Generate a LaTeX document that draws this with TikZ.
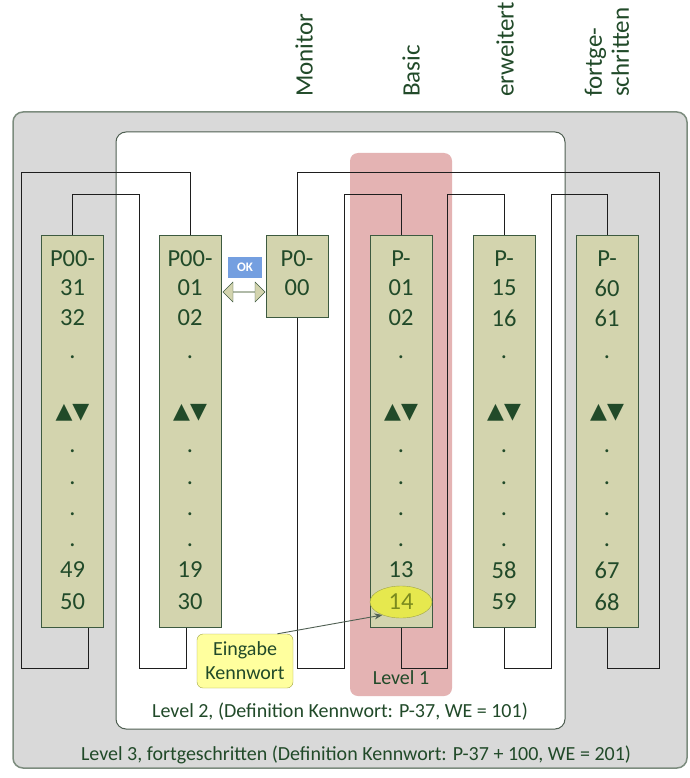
\documentclass[tikz,border=0pt]{standalone}
\usepackage{fontspec}
\setmainfont{Carlito}
\newfontfamily\symfont{DejaVu Sans}
\usetikzlibrary{arrows.meta, shapes.geometric, shapes.arrows}

\definecolor{lvlgray}{HTML}{D9D9D9}
\definecolor{lvlborder}{HTML}{7C8C7E}
\definecolor{innerborder}{HTML}{4F5F52}
\definecolor{basicred}{HTML}{E4B3B3}
\definecolor{boxfill}{HTML}{D3D4AE}
\definecolor{boxline}{HTML}{3D5A40}
\definecolor{txtgreen}{HTML}{214A29}
\definecolor{linecol}{HTML}{1E1E1E}
\definecolor{okblue}{HTML}{749FE0}
\definecolor{calloutfill}{HTML}{FFFF9E}
\definecolor{calloutline}{HTML}{A0A448}
\definecolor{markfill}{HTML}{E6E84E}
\definecolor{marktext}{HTML}{7A8A1E}

\begin{document}
\begin{tikzpicture}[x=1pt, y=-1pt,
        paramcol/.style={draw=boxline, fill=boxfill, line width=0.9pt, minimum width=62, minimum height=392, anchor=north, inner sep=0pt},
        entry/.style={text=txtgreen, font=\fontsize{24.5}{28}\selectfont, inner sep=0pt},
        updown/.style={text=txtgreen, font=\symfont\fontsize{22}{24}\selectfont, inner sep=0pt},
        link/.style={draw=linecol, line width=1pt},
        level/.style={text=txtgreen, font=\fontsize{20}{24}\selectfont, inner sep=0pt},
        head/.style={text=txtgreen, font=\fontsize{25}{27}\selectfont, rotate=90, anchor=west, align=left, inner sep=0pt},
        pointer/.style={-{Stealth[length=8pt, width=6pt]}, draw=innerborder, line width=0.9pt}
    ]
        \useasboundingbox (0,0) rectangle (689,778);

        % Level frames
        \draw[rounded corners=10, fill=lvlgray, draw=lvlborder, line width=1.5pt] (13,112) rectangle (687,768);
        \draw[rounded corners=10, fill=white, draw=innerborder, line width=1pt] (116,132) rectangle (565,729);
        \fill[rounded corners=8, basicred] (350,153) rectangle (452,696);
        \node[level] (lvl3) at (356,755) {Level 3, fortgeschritten (Definition Kennwort: P-37 + 100, WE = 201)};
        \node[level] (lvl2) at (340,712) {Level 2, (Definition Kennwort: P-37, WE = 101)};
        \node[level] (lvl1) at (401,678) {Level 1};

        % Column headings
        \node[head] (hmon) at (304,97) {Monitor};
        \node[head] (hbas) at (411,97) {Basic};
        \node[head] (herw) at (505,97) {erweitert};
        \node[head] (hfort) at (607,97) {fortge-\\schritten};

        % Parameter columns
        \foreach \n/\x in {b1/72.5, b2/190, b4/401, b5/504, b6/607}
            \node[paramcol] (\n) at (\x,235) {};
        \node[paramcol, minimum height=82] (b3) at (297,235) {};

        % Links
        \draw[link] (b2.north) |- (21,173) |- (88,668) -- (88,0 |- b1.south);
        \draw[link] (b1.north) |- (139,194) |- (186,668) -- (186,0 |- b2.south);
        \draw[link] (b6.south) |- (659,668) |- (297,173) -- (b3.north);
        \draw[link] (b3.south) |- (344,668) |- (401,194) -- (b4.north);
        \draw[link] (b4.south) |- (447,668) |- (504,194) -- (b5.north);
        \draw[link] (b5.south) |- (551,668) |- (607,194) -- (b6.north);

        % Entries
        \foreach \n/\x/\a/\b/\c/\d in {b1/72.5/P00-/31/32/49, b2/190/P00-/01/02/19, b4/401/P-/01/02/13, b5/504/P-/15/16/58, b6/607/P-/60/61/67} {
            \node[entry] (\n-p) at (\x,259) {\a};
            \node[entry] (\n-r1) at (\x,288) {\b};
            \node[entry] (\n-r2) at (\x,318) {\c};
            \node[updown] (\n-ud) at (\x,413) {▲▼};
            \foreach \y [count=\k] in {357,451,483,514,545}
                \node[entry] (\n-dot\k) at (\x,\y) {.};
            \node[entry] (\n-r3) at (\x,570) {\d};
        }
        \foreach \n/\x/\e in {b1/72.5/50, b2/190/30, b5/504/59, b6/607/68}
            \node[entry] (\n-r4) at (\x,602) {\e};
        \node[entry] (b3-p) at (297,259) {P0-};
        \node[entry] (b3-r1) at (297,288) {00};

        % Password entry
        \node[ellipse, draw=calloutline, fill=markfill, minimum width=62, minimum height=32, inner sep=0pt,
              text=marktext, font=\fontsize{24.5}{28}\selectfont] (pw) at (401,602) {14};
        \node[draw=calloutline, fill=calloutfill, rounded corners=6, minimum width=96, minimum height=54,
              align=center, text=txtgreen, font=\fontsize{20}{24}\selectfont, inner sep=0pt] (kw) at (245,661) {Eingabe\\Kennwort};
        \draw[pointer] (kw.40) -- (pw.215);

        % OK between column and monitor
        \node[double arrow, draw=boxline, fill=boxfill, minimum height=42, minimum width=20, inner sep=0pt,
              double arrow head extend=4pt] (okarrow) at (244,292) {};
        \node[fill=okblue, text=white, font=\bfseries\fontsize{13}{15}\selectfont, minimum width=34, minimum height=21, inner sep=0pt] (ok) at (245,267) {OK};
    \end{tikzpicture}
\end{document}
